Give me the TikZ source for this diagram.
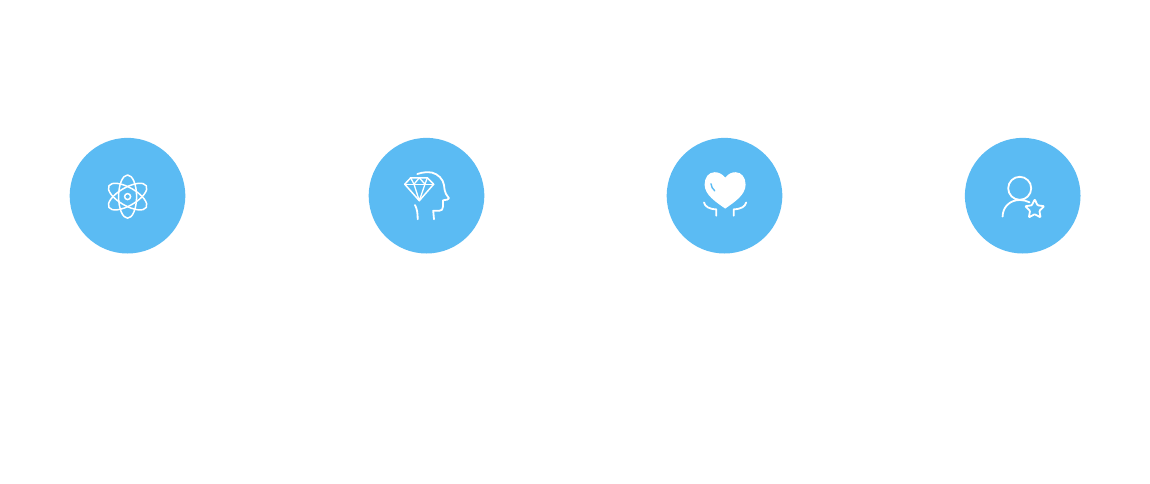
\documentclass[tikz,border=0pt]{standalone}
\usetikzlibrary{calc}
\definecolor{disc}{HTML}{5BBBF3}
\tikzset{
  badge/.style={circle,fill=disc,draw=none,minimum size=115.6pt,inner sep=0pt},
  glyph/.style={draw=white,line width=1.8pt,line cap=round,line join=round},
  glyphthin/.style={draw=white,line width=1.5pt,line cap=round,line join=round},
  glyphfill/.style={fill=white,draw=none}
}
\begin{document}
\begin{tikzpicture}[x=1pt,y=-1pt]
\useasboundingbox[fill=white] (0,0) rectangle (1150,484);
\node[badge] (atom) at (127.5,195.7) {};
\node[badge] (mind) at (426.5,195.7) {};
\node[badge] (care) at (724.5,195.7) {};
\node[badge] (user) at (1022.7,195.7) {};
% atom
\begin{scope}[shift={(127.6,196.6)}]
  \draw[glyphthin] (0,0) circle (3);
  \foreach \a in {0,60,120}{
    \draw[glyphthin,rotate=\a] (0,0) ellipse (9 and 21.6);
  }
\end{scope}
% diamond and head
\draw[glyphthin] (410.7,177.8) -- (427.3,177.8) -- (433.7,184.2) -- (419.3,200.7) -- (404.7,184.2) -- cycle;
\draw[glyphthin,line width=1.3pt] (404.7,184.2) -- (433.7,184.2);
\draw[glyphthin,line width=1.3pt] (410.7,177.8) -- (414,184.2) -- (419.3,177.8) -- (425,184.2) -- (427.3,177.8);
\draw[glyphthin,line width=1.3pt] (414,184.2) -- (419.3,200.7) -- (425,184.2);
\draw[glyph] (417.3,174) .. controls (423,172) and (428,172) .. (432,172.6)
  .. controls (438,174) and (443,179) .. (444,185)
  .. controls (444.5,190) and (445,192) .. (446,194)
  -- (449,198.3) .. controls (449,199.5) and (446,200) .. (443,200.3)
  -- (443,206.5) .. controls (443,209.5) and (441.5,210.7) .. (439.5,210.7)
  -- (433.2,210.7) -- (434,219.3);
\draw[glyph] (415,205) .. controls (417,209) and (417.7,213) .. (417.7,219.3);
% heart and hands
\fill[glyphfill] (725.2,177.6)
  .. controls (722,173.5) and (718,172.2) .. (714.7,172.2)
  .. controls (708.5,172.2) and (704.6,177.5) .. (704.6,184.5)
  .. controls (704.6,195) and (716,202) .. (725.2,208.6)
  .. controls (734.5,202) and (745.6,195) .. (745.6,184.5)
  .. controls (745.6,177.5) and (741.5,172.2) .. (735.5,172.2)
  .. controls (732,172.2) and (728.5,173.5) .. (725.2,177.6) -- cycle;
\draw[disc,line width=1.4pt,line cap=round] (711,183.8) .. controls (711.3,186.5) and (712.5,189) .. (714.7,190.8);
\draw[glyph] (704,202.5) .. controls (705,206.5) and (709,209.2) .. (716.3,209.3) -- (716.3,215.7);
\draw[glyph] (746.2,202.5) .. controls (745.2,206.5) and (741,209.2) .. (733.7,209.3) -- (733.7,215.7);
% user and star
\draw[glyph] (1019.7,188.3) circle (11.5);
\draw[glyph] (1002.6,216.6) .. controls (1002.6,207) and (1010,200) .. (1019.7,200)
  .. controls (1023,200) and (1026.5,200.8) .. (1029.5,202.3);
\draw[glyph,rounded corners=0.8pt]
  ($(1034.7,209.3)+(-90:10)$)
  -- ($(1034.7,209.3)+(-54:4.9)$) -- ($(1034.7,209.3)+(-18:10)$)
  -- ($(1034.7,209.3)+(18:4.9)$) -- ($(1034.7,209.3)+(54:10)$)
  -- ($(1034.7,209.3)+(90:4.9)$) -- ($(1034.7,209.3)+(126:10)$)
  -- ($(1034.7,209.3)+(162:4.9)$) -- ($(1034.7,209.3)+(198:10)$)
  -- ($(1034.7,209.3)+(234:4.9)$) -- cycle;
\end{tikzpicture}
\end{document}
